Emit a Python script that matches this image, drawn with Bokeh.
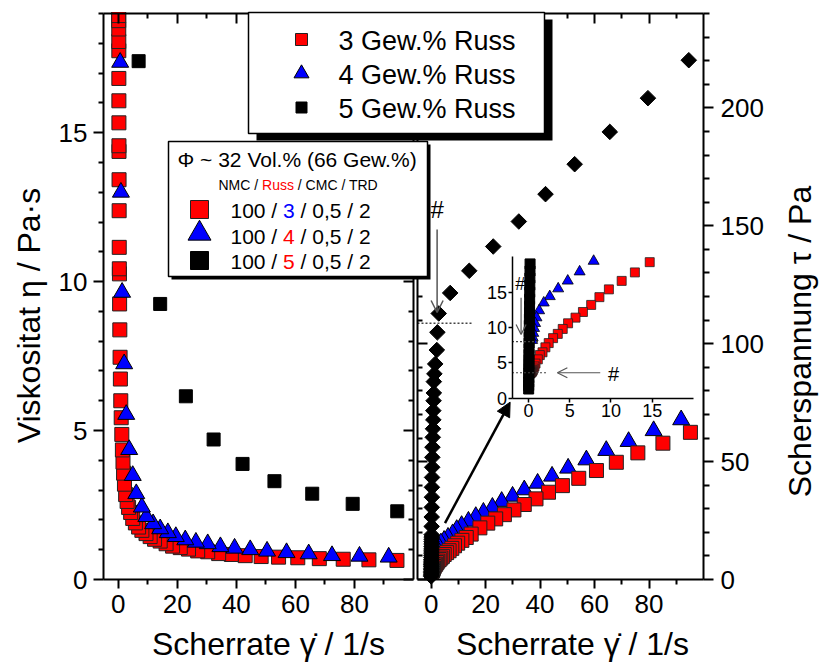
import math
from bokeh.plotting import figure
from bokeh.models import (Range1d, LinearAxis, FixedTicker, Label, BoxAnnotation,
                          Arrow, OpenHead, NormalHead)
from bokeh.embed import file_html
from bokeh.resources import INLINE

FONT = "Liberation Sans"

# ------------------------------------------------------------------ data
series_names = ["3 Gew.% Russ", "4 Gew.% Russ", "5 Gew.% Russ"]

# left panel: Viskositaet eta / Pa s  vs  Scherrate / 1/s
visc_rate_3 = [94.4, 84.9, 76.2, 68.1, 60.8, 54.3, 48.4, 43.0, 38.3, 34.0, 30.3, 26.9, 23.8, 21.0,
               18.4, 16.2, 14.2, 12.3, 10.8, 9.4, 8.0, 6.9, 5.8, 4.9, 4.2, 3.5, 3.0, 2.5, 2.1, 1.8,
               1.6, 1.4, 1.2, 1.0, 0.85, 0.72, 0.62, 0.53, 0.46, 0.40, 0.36, 0.33, 0.30, 0.27, 0.25,
               0.23, 0.22, 0.21, 0.20, 0.19, 0.18, 0.17, 0.16, 0.15, 0.14]
visc_3 = [0.64, 0.66, 0.68, 0.70, 0.73, 0.75, 0.77, 0.80, 0.84, 0.87, 0.93, 0.96, 1.02, 1.07,
          1.12, 1.20, 1.29, 1.35, 1.44, 1.54, 1.65, 1.76, 1.90, 2.05, 2.25, 2.42, 2.62, 2.85, 3.20, 3.57,
          3.94, 4.35, 4.87, 5.43, 6.00, 6.73, 7.46, 8.38, 9.25, 10.26, 10.43, 11.15, 12.38, 13.42, 14.37,
          14.56, 15.33, 16.07, 16.82, 17.75, 18.06, 18.48, 18.76, 18.93, 19.30]
visc_rate_4 = [91.6, 81.7, 72.4, 64.5, 57.0, 50.4, 44.7, 39.4, 34.6, 30.3, 26.3, 22.7, 19.5, 16.8,
               14.2, 11.8, 9.5, 8.0, 6.1, 4.9, 3.7, 2.7, 2.0, 1.3, 0.9, 0.65]
visc_4 = [0.75, 0.78, 0.80, 0.86, 0.90, 0.95, 1.00, 1.05, 1.10, 1.20, 1.25, 1.33, 1.44, 1.57,
          1.70, 1.87, 2.11, 2.43, 2.88, 3.49, 4.36, 5.54, 7.24, 9.64, 13.0, 17.36]
visc_rate_5 = [6.9, 14.2, 22.9, 32.3, 42.1, 52.9, 65.7, 79.4, 94.5]
visc_5 = [17.4, 9.25, 6.15, 4.70, 3.88, 3.30, 2.88, 2.54, 2.29]

# right panel (and inset): Scherspannung tau / Pa  vs  Scherrate / 1/s
stress_rate_3 = [95.2, 85.1, 75.9, 68.0, 60.7, 54.2, 48.2, 43.1, 38.5, 34.2, 30.4, 26.9, 23.7, 20.8,
                 17.9, 14.7, 12.9, 11.3, 9.75, 8.6, 7.6, 6.6, 5.7, 4.8, 4.15, 3.55, 2.98, 2.45, 2.05,
                 1.7, 1.37, 1.13, 0.85, 0.72, 0.62, 0.53, 0.46, 0.40, 0.35, 0.31, 0.27, 0.24, 0.21,
                 0.19, 0.17, 0.15]
stress_3 = [62.4, 57.8, 53.7, 49.7, 46.2, 42.9, 39.8, 37.0, 34.2, 31.8, 29.5, 27.5, 25.7, 23.9,
            21.9, 19.25, 17.8, 16.6, 15.4, 14.3, 13.2, 12.2, 11.4, 10.6, 9.8, 9.1, 8.5, 7.8, 7.2,
            6.5, 6.1, 5.5, 4.9, 4.5, 4.2, 4.0, 3.85, 3.75, 3.7, 3.65, 3.62, 3.6, 3.6,
            3.58, 3.55, 3.5]
stress_rate_4 = [91.8, 81.7, 72.5, 64.3, 57.0, 50.3, 44.4, 39.1, 34.2, 29.9, 25.9, 22.5, 19.2, 16.4,
                 13.7, 11.2, 9.4, 7.9, 6.2, 4.76, 3.6, 2.58, 1.85, 1.29, 0.97, 0.80, 0.68, 0.58,
                 0.50, 0.44]
stress_4 = [67.7, 63.1, 58.5, 54.7, 50.7, 47.2, 43.8, 40.8, 38.0, 35.3, 33.1, 30.6, 28.5, 26.7,
            24.7, 22.9, 21.2, 19.4, 17.9, 16.6, 15.5, 14.4, 13.5, 12.4, 11.4, 10.6, 9.9, 9.2,
            8.6, 8.2]
stress_rate_5 = [94.6, 79.6, 65.6, 52.7, 42.0, 32.2, 22.8, 14.0, 7.0, 2.8, 2.3, 2.1, 1.5, 1.2,
                 1.0, 1.0, 0.9, 0.8, 0.8, 0.7, 0.6, 0.5, 0.45, 0.4, 0.35, 0.3, 0.3, 0.25, 0.22,
                 0.2, 0.19, 0.18, 0.17, 0.16, 0.15, 0.14, 0.13, 0.12, 0.11, 0.10, 0.09, 0.08,
                 0.07, 0.065, 0.06, 0.055, 0.05, 0.045, 0.04, 0.035, 0.03, 0.025, 0.02]
stress_5 = [220.2, 204.1, 189.8, 176.1, 163.4, 151.8, 141.2, 130.9, 121.5, 112.8, 104.8, 97.3,
            91.4, 87.2, 83.9, 79.1, 75.8, 71.6, 67.7, 63.9, 60.3, 56.1, 51.8, 47.6, 43.3,
            39.1, 34.9, 30.6, 26.5, 22.5, 19.0, 18.0, 17.0, 16.0, 15.0, 14.0, 13.0, 12.1,
            11.2, 10.3, 9.4, 8.6, 7.8, 7.0, 6.2, 5.5, 4.8, 4.1, 3.5, 2.9, 2.3, 1.8, 1.3]

# ticks
rate_ticks = [0, 20, 40, 60, 80]
rate_minor = [10, 30, 50, 70, 90]
visc_ticks = [0, 5, 10, 15]
visc_minor = [1, 2, 3, 4, 6, 7, 8, 9, 11, 12, 13, 14, 16, 17, 18, 19]
stress_ticks = [0, 50, 100, 150, 200]
stress_minor = [10, 20, 30, 40, 60, 70, 80, 90, 110, 120, 130, 140, 160, 170, 180, 190,
                210, 220, 230, 240]
inset_ticks = [0, 5, 10, 15]

# axis windows
RATE_MIN, RATE_MAX = -5, 100
VISC_MAX = 19
STRESS_MAX = 240
INSET_X_MIN, INSET_X_MAX, INSET_Y_MAX = -2, 20, 20

# marked yield points (#)
yield_5 = 108.7
yield_4 = 8.0
yield_3 = 3.6

legend_title = "\u03a6 ~ 32 Vol.% (66 Gew.%)"
recipe_head = [("NMC / ", "black"), ("Russ", "#ff0000"), (" / CMC / TRD", "black")]
recipe_rows = [("3", "#0000ff"), ("4", "#ff0000"), ("5", "#ff0000")]

RED, BLUE, BLACK = "#ff0000", "#0000ff", "#000000"

# ------------------------------------------------------------------ layout (page px)
W, H = 820, 664


def make_range(va, pa, vb, pb, plo, phi):
    k = (vb - va) / (pb - pa)
    return Range1d(start=va + (plo - pa) * k, end=va + (phi - pa) * k)


# panel edges in pixels: left panel 103..413, right panel 417..703, top 13, bottom 579
x_left = make_range(RATE_MIN, 103, RATE_MAX, 413, 0, W)
y_visc = make_range(0, 579, VISC_MAX, 13, H, 0)
x_right = make_range(RATE_MIN, 417, RATE_MAX, 703, 0, W)
y_stress = make_range(0, 579, STRESS_MAX, 13, H, 0)
x_inset = make_range(0, 528, 15, 651.7, 0, W)
y_inset = make_range(0, 397.7, 15, 291.7, H, 0)


def px_x(px):
    return x_left.start + px * (x_left.end - x_left.start) / W


def px_y(py):
    return y_visc.start + (H - py) * (y_visc.end - y_visc.start) / H


p = figure(width=W, height=H, x_range=x_left, y_range=y_visc,
           output_backend="svg", toolbar_location=None, tools="",
           x_axis_location=None, y_axis_location=None,
           min_border=0, min_border_left=0, min_border_right=0,
           min_border_top=0, min_border_bottom=0,
           background_fill_color="white", border_fill_color="white")
p.extra_x_ranges = {"xr": x_right, "ix": x_inset}
p.extra_y_ranges = {"tau": y_stress, "iy": y_inset}
p.outline_line_color = None
p.grid.visible = False


def add_axis(side, ticks, minor, labels, tick_in=0, tick_out=0, minor_in=0, minor_out=0,
             standoff=6, font_size="26px", lw=2, **kw):
    ax = LinearAxis(**kw)
    ax.ticker = FixedTicker(ticks=ticks, minor_ticks=minor)
    ax.axis_line_width = lw
    ax.axis_line_color = "black"
    ax.major_tick_line_width = lw
    ax.minor_tick_line_width = lw
    ax.major_tick_in = tick_in
    ax.major_tick_out = tick_out
    ax.minor_tick_in = minor_in
    ax.minor_tick_out = minor_out
    ax.major_label_standoff = standoff
    ax.major_label_text_font = FONT
    ax.major_label_text_font_size = font_size
    ax.major_label_text_color = "black"
    if not labels:
        ax.major_label_overrides = {t: "" for t in ticks}
        ax.major_label_standoff = 0
    p.add_layout(ax, side)
    return ax


def box(l, t, r, b, fill, line=None, level="annotation"):
    bx = BoxAnnotation(left=px_x(l), right=px_x(r), top=px_y(t), bottom=px_y(b),
                       fill_color=fill, fill_alpha=1.0,
                       line_color=line, line_alpha=1.0 if line else 0.0, line_width=1.5,
                       level=level)
    p.add_layout(bx)


def window(xs, ys, xmax, ymax):
    keep = [(a, b) for a, b in zip(xs, ys) if a <= xmax and b <= ymax]
    return [a for a, _ in keep], [b for _, b in keep]


# ------------------------------------------------------------------ data marks
# left panel (only values inside the axis window)
lr3, lv3 = window(visc_rate_3, visc_3, RATE_MAX, VISC_MAX)
lr4, lv4 = window(visc_rate_4, visc_4, RATE_MAX, VISC_MAX)
lr5, lv5 = window(visc_rate_5, visc_5, RATE_MAX, VISC_MAX)
p.scatter(lr3, lv3, marker="square", size=14, fill_color=RED, line_color="#222222", line_width=1)
p.scatter(lr4, lv4, marker="triangle", size=17, fill_color=BLUE, line_color="black", line_width=1)
p.scatter(lr5, lv5, marker="square", size=13, fill_color=BLACK, line_color=BLACK)

# right panel
p.scatter(stress_rate_4, stress_4, marker="triangle", size=17, fill_color=BLUE, line_color="black",
          line_width=1, x_range_name="xr", y_range_name="tau")
p.scatter(stress_rate_3, stress_3, marker="square", size=14, fill_color=RED, line_color="#222222",
          line_width=1, x_range_name="xr", y_range_name="tau")
p.scatter(stress_rate_5, stress_5, marker="square", angle=math.pi / 4, size=11, fill_color=BLACK,
          line_color=BLACK, x_range_name="xr", y_range_name="tau")

# inset: the same measurements in the window of the inset
ir3, is3 = window(stress_rate_3, stress_3, INSET_X_MAX, 19.6)
ir4, is4 = window(stress_rate_4, stress_4, INSET_X_MAX, 19.6)
ir5, is5 = window(stress_rate_5, stress_5, INSET_X_MAX, 19.6)
p.scatter(ir3, is3, marker="square", size=9, fill_color=RED, line_color="#222222", line_width=0.8,
          x_range_name="ix", y_range_name="iy")
p.scatter(ir4, is4, marker="triangle", size=11, fill_color=BLUE, line_color="black", line_width=0.8,
          x_range_name="ix", y_range_name="iy")
p.scatter(ir5, is5, marker="square", size=10, fill_color=BLACK, line_color=BLACK,
          x_range_name="ix", y_range_name="iy")

# white strip above the top axis (cuts marks at the axis)
p.quad(left=[px_x(0)], right=[px_x(W)], top=[px_y(0)], bottom=[px_y(11.5)],
       fill_color="white", line_color=None)

# yield markers (#)
GRAY = "#555555"
p.line([RATE_MIN, 15.4], [yield_5, yield_5], line_dash="2 2", line_color="#444444", line_width=1.5,
       x_range_name="xr", y_range_name="tau")
p.line([INSET_X_MIN, 1.2], [yield_4, yield_4], line_dash="2 2", line_color="#444444", line_width=1.2,
       x_range_name="ix", y_range_name="iy")
p.line([INSET_X_MIN, 2.3], [yield_3, yield_3], line_dash="2 2", line_color="#444444", line_width=1.2,
       x_range_name="ix", y_range_name="iy")

# ------------------------------------------------------------------ axes
# left panel
add_axis("left", visc_ticks, visc_minor, True, tick_out=10, minor_out=5, standoff=6,
         bounds=(0, VISC_MAX), fixed_location=RATE_MIN)
add_axis("below", rate_ticks, rate_minor, True, tick_out=9, minor_out=5, standoff=6,
         bounds=(RATE_MIN, RATE_MAX), fixed_location=0)
add_axis("above", rate_ticks, rate_minor, False, tick_in=10, minor_in=5,
         bounds=(RATE_MIN, RATE_MAX), fixed_location=VISC_MAX)
add_axis("right", visc_ticks, visc_minor, False, tick_in=10, minor_in=5,
         bounds=(0, VISC_MAX), fixed_location=RATE_MAX)
# right panel
add_axis("left", stress_ticks, stress_minor, False, tick_in=10, minor_in=5,
         x_range_name="xr", y_range_name="tau", bounds=(0, STRESS_MAX), fixed_location=RATE_MIN)
add_axis("right", stress_ticks, stress_minor, True, tick_out=10, minor_out=6, standoff=7,
         x_range_name="xr", y_range_name="tau", bounds=(0, STRESS_MAX), fixed_location=RATE_MAX)
add_axis("above", rate_ticks, rate_minor, False, tick_in=10, minor_in=5,
         x_range_name="xr", y_range_name="tau", bounds=(RATE_MIN, RATE_MAX), fixed_location=STRESS_MAX)
add_axis("below", rate_ticks, rate_minor, True, tick_out=9, minor_out=5, standoff=6,
         x_range_name="xr", y_range_name="tau", bounds=(RATE_MIN, RATE_MAX), fixed_location=0)
# inset
add_axis("left", inset_ticks, [], True, tick_out=4, standoff=1, font_size="18px", lw=1.5,
         x_range_name="ix", y_range_name="iy", bounds=(0, INSET_Y_MAX), fixed_location=INSET_X_MIN)
add_axis("below", inset_ticks, [], True, tick_out=4, standoff=2, font_size="18px", lw=1.5,
         x_range_name="ix", y_range_name="iy", bounds=(INSET_X_MIN, INSET_X_MAX), fixed_location=0)

# arrows
p.add_layout(Arrow(end=OpenHead(line_color=GRAY, line_width=1.5, size=12),
                   x_start=2.2, y_start=148.4, x_end=2.2, y_end=yield_5 + 4.5,
                   line_color=GRAY, line_width=1.5, x_range_name="xr", y_range_name="tau"))
p.add_layout(Arrow(end=OpenHead(line_color=GRAY, line_width=1.2, size=10),
                   x_start=-0.9, y_start=14.2, x_end=-0.9, y_end=yield_4 + 1.0,
                   line_color=GRAY, line_width=1.2, x_range_name="ix", y_range_name="iy"))
p.add_layout(Arrow(end=OpenHead(line_color=GRAY, line_width=1.2, size=10),
                   x_start=8.7, y_start=yield_3, x_end=3.5, y_end=yield_3,
                   line_color=GRAY, line_width=1.2, x_range_name="ix", y_range_name="iy"))
p.add_layout(Arrow(end=NormalHead(fill_color="black", line_color="black", size=14),
                   x_start=5.1, y_start=23.9, x_end=29.0, y_end=75.2,
                   line_color="black", line_width=2.5, x_range_name="xr", y_range_name="tau"))


def add_label(text, x, y, size, color="black", align="left", baseline="middle", angle=0.0,
              xr="default", yr="default"):
    lab = Label(x=x, y=y, text=text, text_font=FONT, text_font_size=size, text_color=color,
                text_align=align, text_baseline=baseline, angle=angle,
                x_range_name=xr, y_range_name=yr, level="overlay")
    p.add_layout(lab)


add_label("#", 2.2, 157.0, "24px", align="center", xr="xr", yr="tau")
add_label("#", -1.0, 16.1, "18px", align="center", xr="ix", yr="iy")
add_label("#", 10.3, 3.4, "20px", align="center", xr="ix", yr="iy")

# axis titles
add_label("Viskositat \u03b7 / Pa\u00b7s", px_x(28), px_y(315), "32px", align="center",
          angle=math.pi / 2)
add_label("Scherspannung \u03c4 / Pa", px_x(799), px_y(341), "32px", align="center",
          angle=math.pi / 2)
add_label("Scherrate \u03b3\u0307 / 1/s", px_x(268), px_y(643), "32px", align="center")
add_label("Scherrate \u03b3\u0307 / 1/s", px_x(572), px_y(643), "32px", align="center")

# ------------------------------------------------------------------ legends
# legend 1
box(256, 19, 552, 140, "black")
box(248, 12, 544, 133, "white", "black")
leg1_y = [39, 73, 107]
leg1_style = [("square", 12, RED, "#222222"), ("triangle", 15, BLUE, "black"), ("square", 11, BLACK, BLACK)]
for name, yy, (mk, sz, fc, lc) in zip(series_names, leg1_y, leg1_style):
    p.scatter([px_x(301)], [px_y(yy)], marker=mk, size=sz, fill_color=fc, line_color=lc,
              line_width=1, level="overlay")
    add_label(name, px_x(338), px_y(yy + 1), "27px")

# legend 2
box(171, 144, 430, 279, "black")
box(168, 141, 427, 276, "white", "black")
add_label(legend_title, px_x(177), px_y(159), "21px")

AW = {'0': 556, '1': 556, '2': 556, '3': 556, '4': 556, '5': 556, '6': 556, '7': 556, '8': 556,
      '9': 556, ' ': 278, '/': 278, ',': 278, '.': 278, 'N': 722, 'M': 833, 'C': 722, 'R': 722,
      'u': 556, 's': 500, 'T': 611, 'D': 722}


def text_w(s, size_px):
    return sum(AW.get(c, 556) for c in s) * size_px / 1000.0


def colored_text(pieces, px0, py, size_px):
    x = px0
    for s, color in pieces:
        lead = len(s) - len(s.lstrip(" "))
        txt = s.strip(" ")
        add_label(txt, px_x(x + text_w(s[:lead], size_px)), px_y(py), f"{size_px}px", color=color)
        x += text_w(s, size_px)


colored_text(recipe_head, 218, 184, 14)
leg2_y = [209, 235, 260]
leg2_style = [("square", 18, RED, "#222222", 209), ("triangle", 23, BLUE, "black", 233),
              ("square", 18, BLACK, BLACK, 260)]
for (digit, dcolor), yy, (mk, sz, fc, lc, my) in zip(recipe_rows, leg2_y, leg2_style):
    p.scatter([px_x(199)], [px_y(my)], marker=mk, size=sz, fill_color=fc, line_color=lc,
              line_width=1, level="overlay")
    colored_text([("100 / ", "black"), (digit, dcolor), (" / 0,5 / 2", "black")], 230, yy + 1, 21)

open("out.html", "w").write(file_html(p, INLINE, "Viskositaet und Scherspannung"))
